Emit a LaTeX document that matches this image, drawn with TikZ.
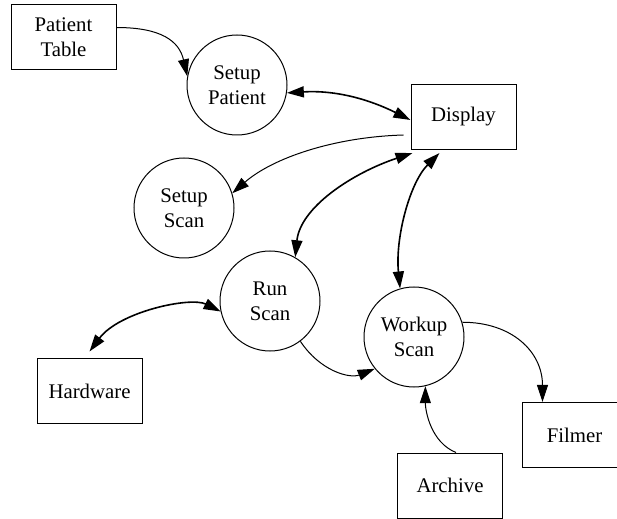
\documentclass[tikz,border=0pt]{standalone}
\usepackage{fontspec}
\setmainfont{Liberation Serif}
\usetikzlibrary{arrows.meta}

\begin{document}
\begin{tikzpicture}[x=0.5pt, y=-0.5pt,
        entite/.style={shape=rectangle, draw, minimum width=52.5pt, minimum height=32.5pt, inner sep=0pt, align=center},
        processus/.style={shape=circle, draw, minimum size=50pt, inner sep=0pt, align=center},
        flux/.style={-{Triangle[length=8.5pt, width=5.5pt]}, line width=0.5pt},
        echange/.style={{Triangle[length=8.5pt, width=5.5pt]}-{Triangle[length=8.5pt, width=5.5pt]}, line width=0.8pt},
        every node/.style={font=\fontsize{10.4}{12.5}\selectfont, line width=0.5pt}]
            \useasboundingbox (0,0) rectangle (617,519);

            \node (pt) [entite] at (63.5, 37.5) {Patient\\Table};
            \node (sp) [processus] at (237, 85) {Setup\\Patient};
            \node (disp) [entite] at (463.5, 117) {Display};
            \node (ss) [processus] at (184, 208) {Setup\\Scan};
            \node (rs) [processus] at (270, 301) {Run\\Scan};
            \node (ws) [processus] at (414, 337) {Workup\\Scan};
            \node (hw) [entite] at (89.5, 391.5) {Hardware};
            \node (fi) [entite] at (574.5, 435) {Filmer};
            \node (ar) [entite] at (450, 485.5) {Archive};

            \draw[flux] ([yshift=5pt]pt.east) .. controls +(45,0) and +(-8,-35) .. (sp.170);
            \draw[echange] (sp.-9) .. controls +(50,-3) and +(-40,-20) .. ([yshift=-1.5pt]disp.west);
            \draw[flux] ([xshift=-3.5pt, yshift=-9pt]disp.west) .. controls +(-70,2) and +(40,-35) .. (ss.17);
            \draw[echange] ([xshift=1pt, yshift=-1.5pt]disp.south west) .. controls +(-60,20) and +(5,-50) .. (rs.60);
            \draw[echange] ([xshift=14.5pt, yshift=-1.5pt]disp.south west) .. controls +(-30,30) and +(-5,-50) .. (ws.106);
            \draw[echange] (rs.192) .. controls +(-30,-15) and +(30,-40) .. ([yshift=3.5pt]hw.north);
            \draw[flux] (rs.-53) .. controls +(20,30) and +(-25,10) .. (ws.219);
            \draw[flux] (ws.17) .. controls +(50,0) and +(0,-50) .. ([xshift=-16pt]fi.north);
            \draw[flux] ([xshift=3pt]ar.north) .. controls +(-25,-10) and +(0,25) .. (ws.-77);
\end{tikzpicture}
\end{document}
